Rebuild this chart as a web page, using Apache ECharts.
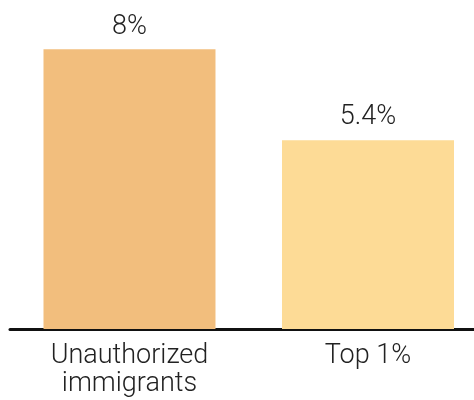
<!DOCTYPE html>
<html><head><meta charset="utf-8">
<script src="https://cdn.jsdelivr.net/npm/echarts@6/dist/echarts.min.js"></script>
<style>html,body{margin:0;padding:0;background:#fff}#c{width:474px;height:400px}</style>
</head><body><div id="c"></div>
<script>
const categories = ['Unauthorized\nimmigrants', 'Top 1%'];
const values = [8, 5.4];
const valueLabels = ['8%', '5.4%'];
const colors = ['#f2be7d', '#fddb96'];
const FONT = 'Roboto, sans-serif';
const positions = categories.map((c, i) => i);
const chart = echarts.init(document.getElementById('c'), null, {renderer: 'canvas'});
chart.setOption({
  animation: false,
  grid: {left: 10, top: 49.3, right: 0, bottom: 71, containLabel: false},
  xAxis: {
    type: 'value', min: -0.501, max: 1.4444,
    offset: 1.5,
    splitLine: {show: false},
    axisLine: {show: true, lineStyle: {color: '#111', width: 3}},
    axisTick: {show: false},
    axisLabel: {
      customValues: positions,
      formatter: v => categories[Math.round(v)],
      color: '#222', fontFamily: FONT, fontWeight: 300, fontSize: 27, lineHeight: 28, margin: 12
    }
  },
  yAxis: {type: 'value', min: 0, max: 8, show: false, splitLine: {show: false}},
  series: [{
    type: 'bar', barWidth: 172,
    data: values.map((v, i) => ({value: [positions[i], v], itemStyle: {color: colors[i]}, label: {formatter: valueLabels[i]}})),
    label: {show: true, position: 'top', distance: 9, color: '#222', fontFamily: FONT, fontWeight: 300, fontSize: 27}
  }]
});
</script></body></html>
